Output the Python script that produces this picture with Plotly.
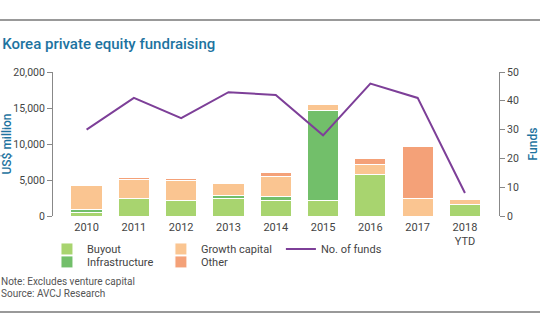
import plotly.graph_objects as go

years = ["2010", "2011", "2012", "2013", "2014", "2015", "2016", "2017", "2018<br>YTD"]
buyout = [500, 2400, 2100, 2400, 2100, 2100, 5800, 0, 1600]
infrastructure = [400, 0, 0, 400, 600, 12600, 0, 0, 0]
growth_capital = [3300, 2650, 2800, 1700, 2800, 850, 1300, 2400, 700]
other = [0, 250, 250, 0, 600, 0, 850, 7300, 0]
no_of_funds = [30, 41, 34, 43, 42, 28, 46, 41, 8]

FONT = "Roboto, sans-serif"
TEAL = "#1d73a0"
GRAY = "#444444"

fig = go.Figure()
bar_specs = [
    ("Buyout", buyout, "#a8d46f", "legend"),
    ("Infrastructure", infrastructure, "#72bf6a", "legend2"),
    ("Growth capital", growth_capital, "#fac591", "legend3"),
    ("Other", other, "#f4a178", "legend4"),
]
for name, vals, color, lg in bar_specs:
    fig.add_trace(go.Bar(
        x=years, y=vals, name=name, marker=dict(color=color, line=dict(color="white", width=1)),
        width=0.66, legend=lg, showlegend=True,
    ))
fig.add_trace(go.Scatter(
    x=years, y=no_of_funds, name="No. of funds", mode="lines",
    line=dict(color="#7d3f98", width=2), yaxis="y2", legend="legend5", showlegend=True,
))

legend_common = dict(orientation="h", bgcolor="rgba(0,0,0,0)", font=dict(size=11, color=GRAY, family=FONT),
                     yanchor="middle", xanchor="left", itemwidth=30)
row1, row2 = -0.229, -0.319
col1, col2, col3 = -0.0135, 0.242, 0.511

fig.update_layout(
    width=540, height=334,
    margin=dict(l=53, r=41, t=72, b=118),
    paper_bgcolor="white", plot_bgcolor="white",
    showlegend=True,
    barmode="stack", bargap=0.34,
    font=dict(family=FONT, color=GRAY, size=11),
    title=dict(text="Korea private equity fundraising", x=0.004, xanchor="left", y=0.87, yanchor="middle",
               font=dict(size=15, color=TEAL, family=FONT, weight=500)),
    xaxis=dict(range=[-0.71, 8.72], showline=False, ticks="", tickfont=dict(size=11, color=GRAY),
               showgrid=False, type="category", automargin=False, ticklabelstandoff=3),
    yaxis=dict(range=[0, 20000], dtick=5000, tickformat=",", showgrid=False, zeroline=False,
               showline=True, linecolor="#888888", linewidth=1, ticks="outside", ticklen=5,
               tickcolor="#888888", tickfont=dict(size=10.5, color=GRAY), automargin=False,
               title=dict(text="US$ million", font=dict(size=12, color=TEAL, family=FONT, weight=500), standoff=6)),
    yaxis2=dict(range=[0, 50], dtick=10, overlaying="y", side="right", showgrid=False, zeroline=False,
                showline=True, linecolor="#888888", linewidth=1, ticks="outside", ticklen=5,
                tickcolor="#888888", tickfont=dict(size=10.5, color=GRAY), automargin=False,
                title=dict(text="Funds", font=dict(size=12, color=TEAL, family=FONT, weight=500), standoff=15)),
    legend=dict(x=col1, y=row1, **legend_common),
    legend2=dict(x=col1, y=row2, **legend_common),
    legend3=dict(x=col2, y=row1, **legend_common),
    legend4=dict(x=col2, y=row2, **legend_common),
    legend5=dict(x=col3, y=row1, **legend_common),
    annotations=[
        dict(text="Note: Excludes venture capital", xref="paper", yref="paper",
             x=-0.122, y=-0.458, xanchor="left", yanchor="middle", showarrow=False, align="left",
             font=dict(size=10, color="#555555", family=FONT)),
        dict(text="Source: AVCJ Research", xref="paper", yref="paper",
             x=-0.122, y=-0.535, xanchor="left", yanchor="middle", showarrow=False, align="left",
             font=dict(size=10, color="#555555", family=FONT)),
    ],
)
fig.add_shape(type="line", xref="paper", yref="paper", x0=-0.2, x1=1.2, y0=1.361, y1=1.361,
              line=dict(color="#999999", width=2))
fig.add_shape(type="line", xref="paper", yref="paper", x0=-0.2, x1=1.2, y0=-0.667, y1=-0.667,
              line=dict(color="#999999", width=2))

fig.write_html("out.html")
